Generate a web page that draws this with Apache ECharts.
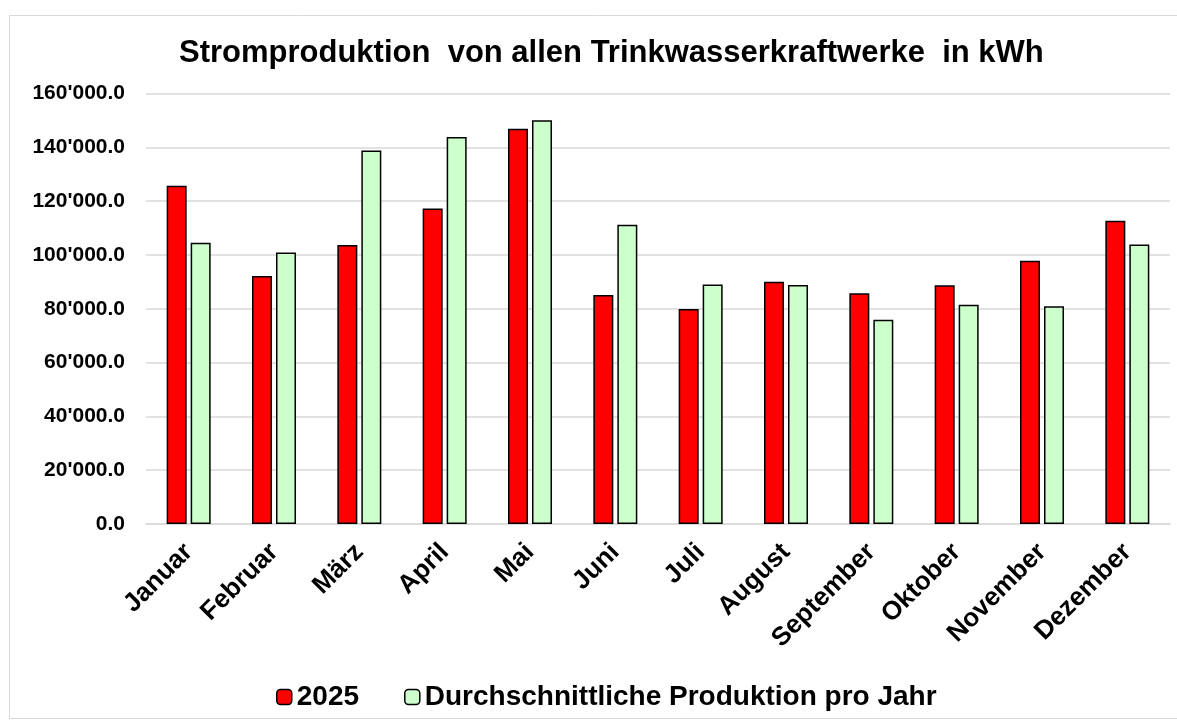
<!DOCTYPE html>
<html>
<head>
<meta charset="utf-8">
<script src="https://cdn.jsdelivr.net/npm/echarts@6/dist/echarts.min.js"></script>
<style>
html,body{margin:0;padding:0;background:#fff;}
#chart{width:1177px;height:722px;}
</style>
</head>
<body>
<div id="chart"></div>
<script>
const categories = ['Januar','Februar','März','April','Mai','Juni','Juli','August','September','Oktober','November','Dezember'];
const series2025 = [125700, 92200, 103700, 117300, 146900, 85100, 79900, 90000, 85800, 88700, 97800, 112700];
const seriesAvg = [104500, 100900, 138800, 143800, 150100, 111200, 89000, 88800, 75900, 81500, 80900, 103900];
const seriesNames = ['2025', 'Durchschnittliche Produktion pro Jahr'];
const titleText = 'Stromproduktion  von allen Trinkwasserkraftwerke  in kWh';

function fmt(v){
  const s = Math.round(v).toString().replace(/\B(?=(\d{3})+(?!\d))/g, "'");
  return s + '.0';
}

const chart = echarts.init(document.getElementById('chart'), null, {renderer:'canvas'});
const font = 'Arial, "Liberation Sans", sans-serif';
chart.setOption({
  animation: false,
  backgroundColor: '#fff',
  graphic: [{
    type: 'rect', left: 7, top: 13,
    shape: {width: 1180, height: 703},
    style: {fill: 'none', stroke: '#d9d9d9', lineWidth: 1},
    silent: true
  }],
  title: {
    text: titleText, left: 174, top: 33,
    textStyle: {fontFamily: font, fontSize: 31, fontWeight: 'bold', color: '#000'}
  },
  legend: {
    data: seriesNames, top: 678, left: 271,
    itemWidth: 15, itemHeight: 15, itemGap: 45,
    textStyle: {fontFamily: font, fontSize: 28, fontWeight: 'bold', color: '#000'},
    itemStyle: {borderColor: '#000', borderWidth: 1.5}
  },
  grid: {left: 146, right: 7, top: 93.5, bottom: 198, containLabel: false},
  xAxis: {
    type: 'category', data: categories,
    axisLine: {show: true, lineStyle: {color: '#d9d9d9', width: 1.5}},
    axisTick: {show: false},
    axisLabel: {rotate: 45, interval: 0, margin: 24, fontFamily: font, fontSize: 26, fontWeight: 'bold', color: '#000'}
  },
  yAxis: {
    type: 'value', min: 0, max: 160000, interval: 20000,
    axisLine: {show: false}, axisTick: {show: false},
    splitLine: {lineStyle: {color: '#d9d9d9', width: 1.5}},
    axisLabel: {formatter: fmt, margin: 21, fontFamily: font, fontSize: 21, fontWeight: 'bold', color: '#000'}
  },
  series: [
    {name: seriesNames[0], type: 'bar', data: series2025, barWidth: 20, barGap: '20%',
     itemStyle: {color: '#ff0000', borderColor: '#000', borderWidth: 1.5}},
    {name: seriesNames[1], type: 'bar', data: seriesAvg, barWidth: 20,
     itemStyle: {color: '#ccffcc', borderColor: '#000', borderWidth: 1.5}}
  ]
});
</script>
</body>
</html>
